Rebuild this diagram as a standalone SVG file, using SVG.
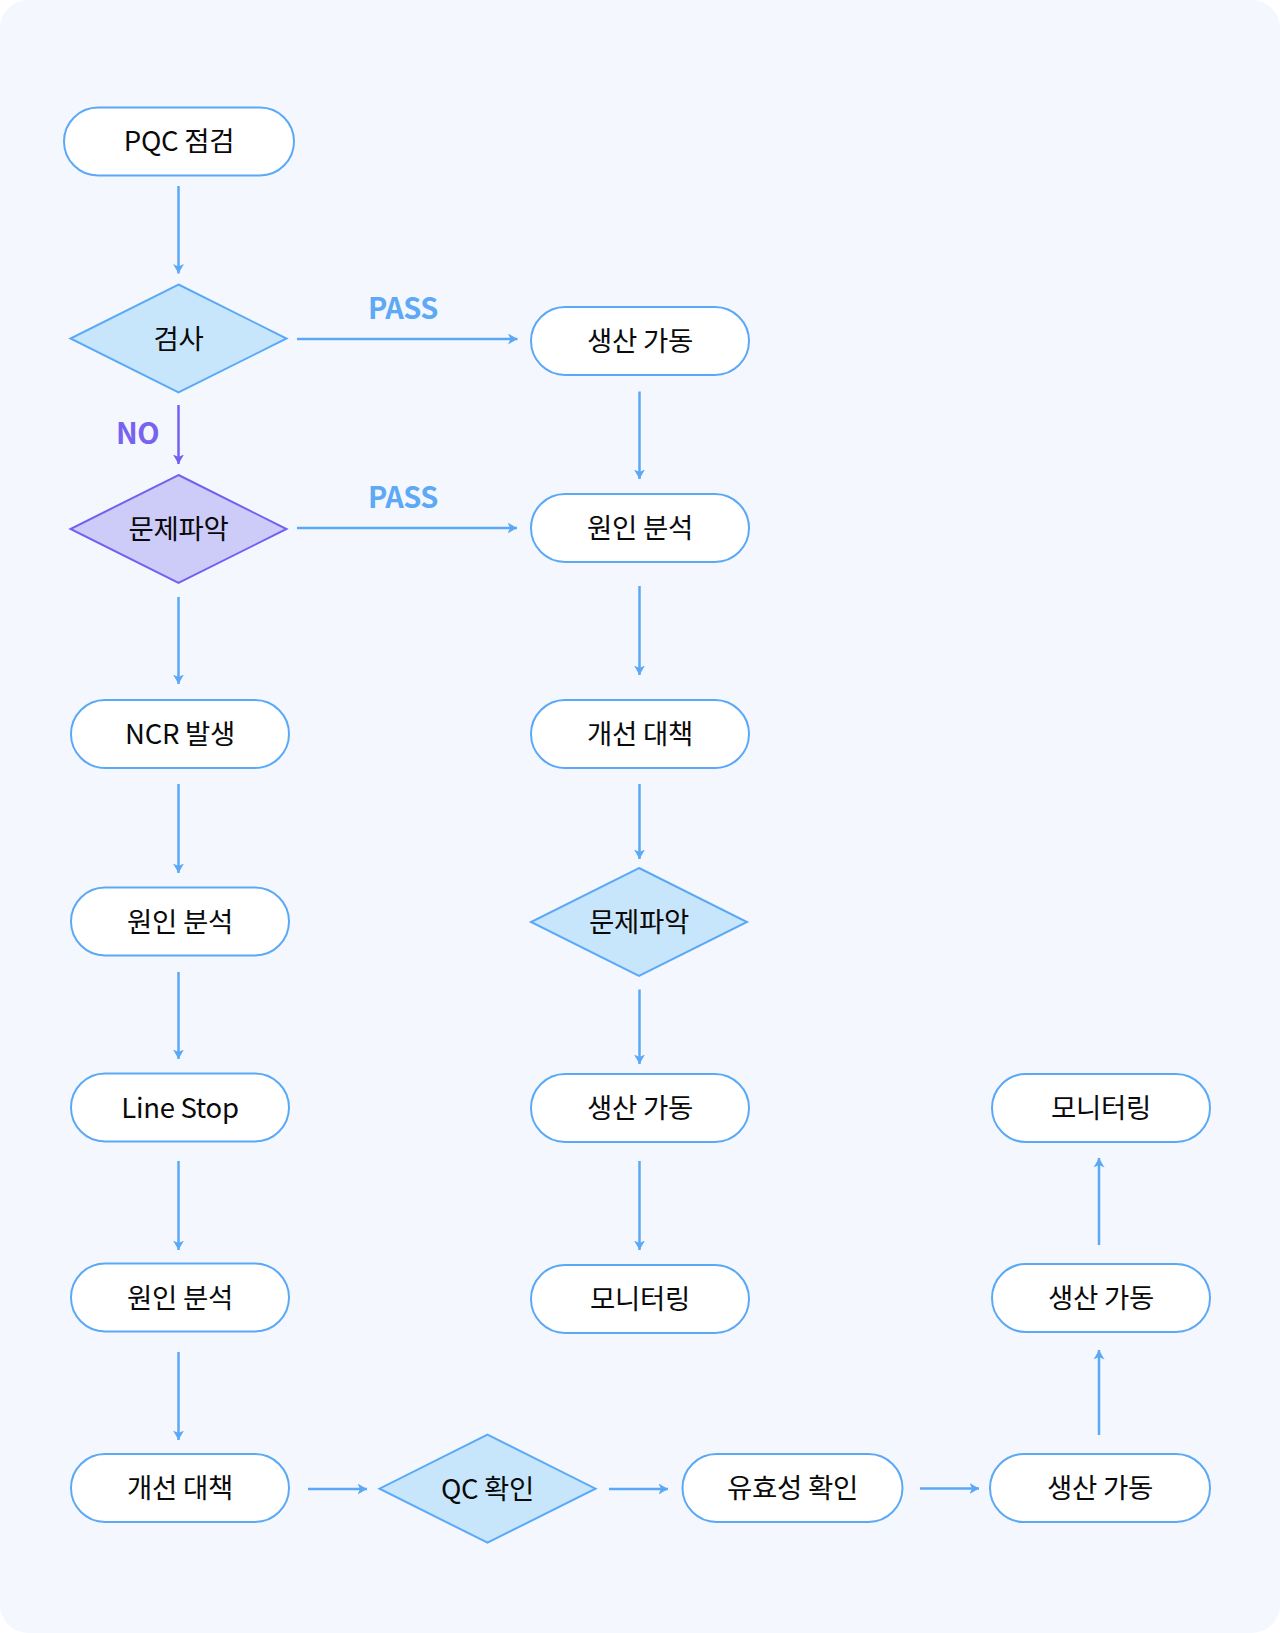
<svg xmlns="http://www.w3.org/2000/svg" width="1280" height="1633" viewBox="0 0 1280 1633">
<defs>
<marker id="ab" markerUnits="userSpaceOnUse" markerWidth="12" markerHeight="12" refX="9.5" refY="5.5" orient="auto">
<path d="M0,0 L9.5,5.5 L0,11 L2.5,5.5 Z" fill="#5ba9f6"/>
</marker>
<marker id="ap" markerUnits="userSpaceOnUse" markerWidth="12" markerHeight="12" refX="9.5" refY="5.5" orient="auto">
<path d="M0,0 L9.5,5.5 L0,11 L2.5,5.5 Z" fill="#7460ef"/>
</marker>
</defs>
<style>
.n{fill:#ffffff;stroke:#5ba9f6;stroke-width:2}
.d{fill:#c8e6fb;stroke:#5ba9f6;stroke-width:2}
.dp{fill:#cdcbf8;stroke:#7460ef;stroke-width:2}
.t{font-family:"Noto Sans CJK KR","Noto Sans",sans-serif;font-size:27.5px;font-weight:400;fill:#0a0a0a;text-anchor:middle;letter-spacing:-0.3px}
.c{stroke:#5ba9f6;stroke-width:2.5;fill:none;marker-end:url(#ab)}
.cp{stroke:#7460ef;stroke-width:2.5;fill:none;marker-end:url(#ap)}
.lb{font-family:"Noto Sans CJK KR","Noto Sans",sans-serif;font-size:29px;font-weight:700;text-anchor:middle;letter-spacing:-0.5px}
</style>
<rect x="0" y="0" width="1280" height="1633" fill="#ffffff"/>
<rect x="0" y="0" width="1280" height="1633" rx="28" fill="#f4f8fe"/>

<g id="connectors">
<line class="c" x1="178.5" y1="186" x2="178.5" y2="273.5"/>
<line class="c" x1="297" y1="339" x2="517.5" y2="339"/>
<line class="cp" x1="178.5" y1="405" x2="178.5" y2="464"/>
<line class="c" x1="297" y1="528" x2="517" y2="528"/>
<line class="c" x1="178.5" y1="597" x2="178.5" y2="684"/>
<line class="c" x1="178.5" y1="784" x2="178.5" y2="873"/>
<line class="c" x1="178.5" y1="972" x2="178.5" y2="1059"/>
<line class="c" x1="178.5" y1="1161" x2="178.5" y2="1250"/>
<line class="c" x1="178.5" y1="1352" x2="178.5" y2="1440"/>
<line class="c" x1="308" y1="1489" x2="367" y2="1489"/>
<line class="c" x1="609" y1="1489" x2="668" y2="1489"/>
<line class="c" x1="920" y1="1488.5" x2="979" y2="1488.5"/>
<line class="c" x1="1099" y1="1435" x2="1099" y2="1350"/>
<line class="c" x1="1099" y1="1245" x2="1099" y2="1158"/>
<line class="c" x1="639.5" y1="391.5" x2="639.5" y2="479"/>
<line class="c" x1="639.5" y1="586" x2="639.5" y2="675"/>
<line class="c" x1="639.5" y1="784" x2="639.5" y2="859"/>
<line class="c" x1="639.5" y1="989.5" x2="639.5" y2="1064"/>
<line class="c" x1="639.5" y1="1161" x2="639.5" y2="1250"/>
<text class="lb" x="403" y="319" fill="#5ea9f5">PASS</text>
<text class="lb" x="403" y="508" fill="#5ea9f5">PASS</text>
<text class="lb" x="137.5" y="444" fill="#7763ef">NO</text>
</g>

<g id="n-pqc"><rect class="n" x="64" y="107.5" width="230" height="68" rx="34"/><text class="t" x="179" y="151">PQC 점검</text></g>
<g id="n-check"><polygon class="d" points="178.5,284.5 286.5,338.5 178.5,392.5 70.5,338.5"/><text class="t" x="178.5" y="348.5">검사</text></g>
<g id="n-problem1"><polygon class="dp" points="178.5,475 286.5,529 178.5,583 70.5,529"/><text class="t" x="178.5" y="539">문제파악</text></g>
<g id="n-ncr"><rect class="n" x="71" y="700" width="218" height="68" rx="34"/><text class="t" x="180" y="744">NCR 발생</text></g>
<g id="n-cause1"><rect class="n" x="71" y="887.5" width="218" height="68" rx="34"/><text class="t" x="180" y="931.5">원인 분석</text></g>
<g id="n-linestop"><rect class="n" x="71" y="1073.5" width="218" height="68" rx="34"/><text class="t" x="180" y="1117.5">Line Stop</text></g>
<g id="n-cause2"><rect class="n" x="71" y="1263.5" width="218" height="68" rx="34"/><text class="t" x="180" y="1307.5">원인 분석</text></g>
<g id="n-improve1"><rect class="n" x="71" y="1454" width="218" height="68" rx="34"/><text class="t" x="180" y="1498">개선 대책</text></g>
<g id="n-qc"><polygon class="d" points="487.5,1434.7 595.5,1488.7 487.5,1542.7 379.5,1488.7"/><text class="t" x="487.5" y="1498.7">QC 확인</text></g>
<g id="n-valid"><rect class="n" x="682.5" y="1454" width="220" height="68" rx="34"/><text class="t" x="792.5" y="1498">유효성 확인</text></g>
<g id="n-prod-b"><rect class="n" x="990" y="1454" width="220" height="68" rx="34"/><text class="t" x="1100" y="1498">생산 가동</text></g>
<g id="n-prod-r"><rect class="n" x="992" y="1264" width="218" height="68" rx="34"/><text class="t" x="1101" y="1308">생산 가동</text></g>
<g id="n-mon-r"><rect class="n" x="992" y="1074" width="218" height="68" rx="34"/><text class="t" x="1101" y="1118">모니터링</text></g>
<g id="n-prod1"><rect class="n" x="531" y="307" width="218" height="68" rx="34"/><text class="t" x="640" y="351">생산 가동</text></g>
<g id="n-cause3"><rect class="n" x="531" y="494" width="218" height="68" rx="34"/><text class="t" x="640" y="538">원인 분석</text></g>
<g id="n-improve2"><rect class="n" x="531" y="700" width="218" height="68" rx="34"/><text class="t" x="640" y="744">개선 대책</text></g>
<g id="n-problem2"><polygon class="d" points="639,868 747,922 639,976 531,922"/><text class="t" x="639" y="932">문제파악</text></g>
<g id="n-prod2"><rect class="n" x="531" y="1074" width="218" height="68" rx="34"/><text class="t" x="640" y="1118">생산 가동</text></g>
<g id="n-mon"><rect class="n" x="531" y="1265" width="218" height="68" rx="34"/><text class="t" x="640" y="1309">모니터링</text></g>
</svg>
